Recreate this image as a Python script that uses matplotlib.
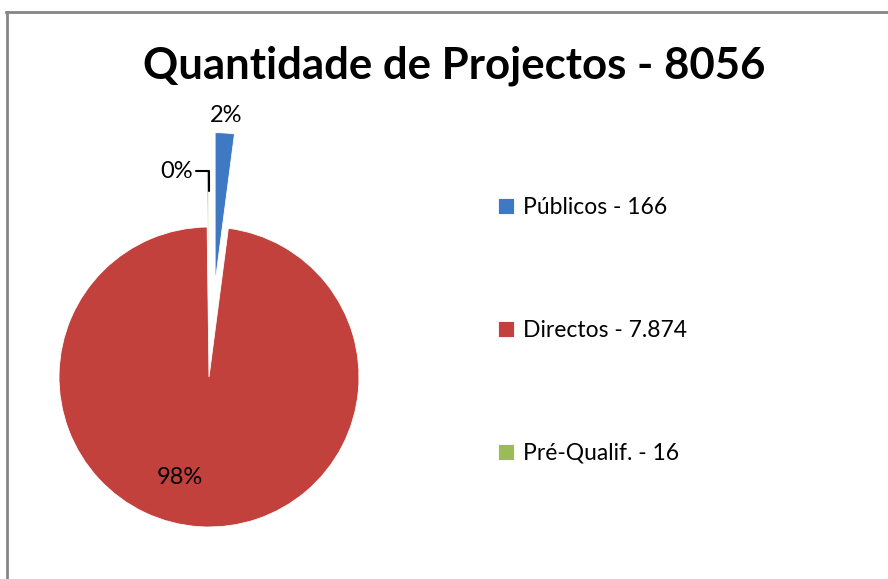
import matplotlib.pyplot as plt
import numpy as np

categories = ["Públicos", "Directos", "Pré-Qualif."]
counts = [166, 7874, 16]
colors = ["#3F78C3", "#C2413D", "#9BBB59"]

total = sum(counts)

fig = plt.figure(figsize=(8.88, 5.79), dpi=100)
ax = fig.add_axes([0, 0, 1, 1])
ax.axis("off")

# pie drawn in pixel units
radius = 150
center = (209, 202)
explode = [radius * 0.63, 0, radius * 0.37]

wedges, _ = ax.pie(counts, colors=colors, startangle=90, counterclock=False,
                   radius=radius, center=center, explode=explode,
                   wedgeprops=dict(linewidth=0.6, edgecolor="white"))
ax.set_xlim(0, 888)
ax.set_ylim(0, 579)
ax.set_aspect("equal")

pcts = [round(c / total * 100) for c in counts]

def mid(w):
    return np.deg2rad((w.theta1 + w.theta2) / 2)

# blue label above the tip
w = wedges[0]
a = mid(w)
ax.text(w.center[0] + radius * 1.12 * np.cos(a), w.center[1] + radius * 1.12 * np.sin(a),
        f"{pcts[0]}%", ha="center", va="center", fontsize=17, family="Lato")

# green label with leader line
w = wedges[2]
a = mid(w)
tip = (w.center[0] + radius * 0.87 * np.cos(a) + 1, w.center[1] + radius * 0.87 * np.sin(a))
ax.annotate(f"{pcts[2]}%", xy=tip, xytext=(-16, 20), textcoords="offset pixels",
            ha="right", va="center", fontsize=17, family="Lato",
            arrowprops=dict(arrowstyle="-", color="black", lw=1.5,
                            connectionstyle="angle,angleA=0,angleB=90,rad=0",
                            shrinkA=0, shrinkB=0))

# red label inside
w = wedges[1]
a = np.deg2rad(-106)
ax.text(w.center[0] + radius * 0.7 * np.cos(a), w.center[1] + radius * 0.7 * np.sin(a),
        f"{pcts[1]}%", ha="center", va="center", fontsize=17, family="Lato")

labels = [f"{c} - {n:,}".replace(",", ".") for c, n in zip(categories, counts)]
fig.legend(wedges, labels, loc="upper left", bbox_to_anchor=(0.55, 0.676),
           frameon=False, prop=dict(family="Lato", size=16.5),
           handlelength=0.72, handleheight=0.72, handletextpad=0.4,
           labelspacing=4.45, borderaxespad=0)

fig.text(0.512, 0.886, f"Quantidade de Projectos - {total}", ha="center", va="center",
         fontsize=31.5, fontweight="bold", family="Lato")

# chart border (top and left visible)
fig.add_artist(plt.Line2D([6 / 888, 1], [1 - 12 / 579, 1 - 12 / 579], color="#868686", lw=2))
fig.add_artist(plt.Line2D([7 / 888, 7 / 888], [0, 1 - 12 / 579], color="#868686", lw=2))

fig.savefig("out.png", dpi=100)
